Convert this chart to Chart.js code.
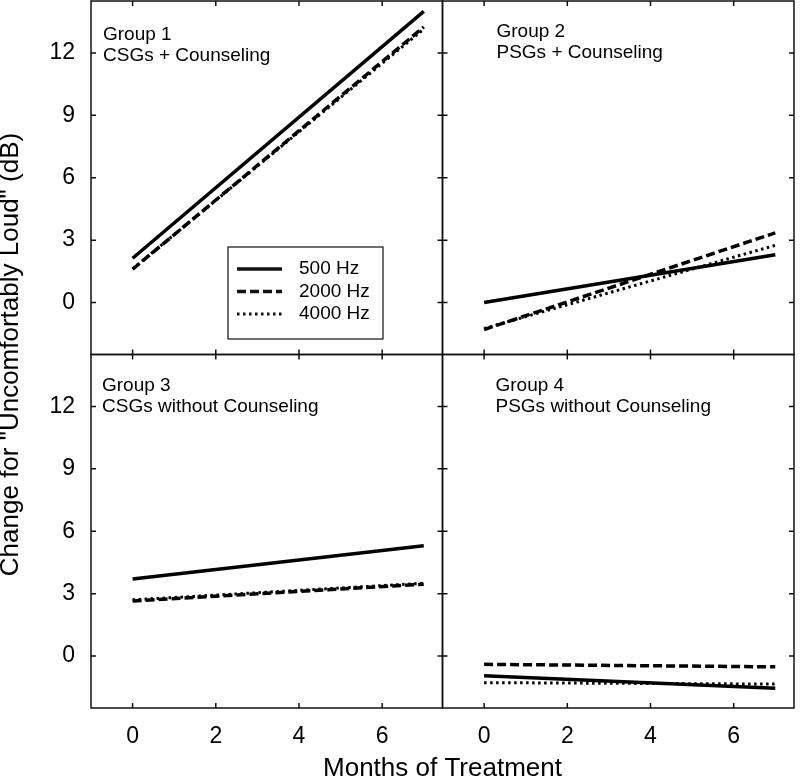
<!DOCTYPE html>
<html>
<head>
<meta charset="utf-8">
<script src="https://cdn.jsdelivr.net/npm/chart.js@4/dist/chart.umd.min.js"></script>
<style>
  html, body { margin: 0; padding: 0; background: #fff; }
  #chart { display: block; }
</style>
</head>
<body>
<canvas id="chart" width="800" height="784"></canvas>
<script>
// months at which each fitted line is drawn
const months = [0, 7];
const monthTicks = [0, 2, 4, 6];
const changeTicks = [0, 3, 6, 9, 12];
const seriesNames = ["500 Hz", "2000 Hz", "4000 Hz"];
const groupNames = ["Group 1", "Group 2", "Group 3", "Group 4"];
const groupDescs = ["CSGs + Counseling", "PSGs + Counseling", "CSGs without Counseling", "PSGs without Counseling"];

// change in "uncomfortably loud" level (dB) at 0 and 7 months
const g1Hz500 = [2.13, 14.0];
const g1Hz2000 = [1.6, 13.25];
const g1Hz4000 = [1.62, 13.15];
const g2Hz500 = [0.0, 2.3];
const g2Hz2000 = [-1.3, 3.35];
const g2Hz4000 = [-1.25, 2.75];
const g3Hz500 = [3.7, 5.3];
const g3Hz2000 = [2.65, 3.45];
const g3Hz4000 = [2.7, 3.5];
const g4Hz500 = [-0.95, -1.55];
const g4Hz2000 = [-0.4, -0.52];
const g4Hz4000 = [-1.28, -1.35];

const FONT = "'Liberation Sans', Arial, sans-serif";

const lineStyles = [
  { borderWidth: 3.5, borderDash: [] },
  { borderWidth: 3.5, borderDash: [9, 4] },
  { borderWidth: 3, borderDash: [2.5, 3.5] },
];

// which axes each panel lives on
const panels = [
  { x: "xL", y: "yTop", series: [g1Hz500, g1Hz2000, g1Hz4000], textX: 12, textY: 39, legend: true },
  { x: "xR", y: "yTop", series: [g2Hz500, g2Hz2000, g2Hz4000], textX: 54, textY: 36 },
  { x: "xL", y: "yBot", series: [g3Hz500, g3Hz2000, g3Hz4000], textX: 11, textY: 36 },
  { x: "xR", y: "yBot", series: [g4Hz500, g4Hz2000, g4Hz4000], textX: 53, textY: 36 },
];

function buildDatasets() {
  const out = [];
  panels.forEach((p, pi) => {
    p.series.forEach((vals, si) => {
      out.push({
        label: groupNames[pi] + " " + seriesNames[si],
        data: months.map((m, i) => ({ x: m, y: vals[i] })),
        xAxisID: p.x,
        yAxisID: p.y,
        borderColor: "#000",
        borderWidth: lineStyles[si].borderWidth,
        borderDash: lineStyles[si].borderDash,
        borderCapStyle: "butt",
        pointRadius: 0,
        fill: false,
        tension: 0,
      });
    });
  });
  return out;
}

function xScale() {
  return {
    type: "linear",
    position: "bottom",
    stack: "months",
    min: -1,
    max: 7.45,
    afterBuildTicks: (s) => { s.ticks = monthTicks.map((v) => ({ value: v })); },
    afterFit: (s) => { s.height = 44; s.paddingLeft = 0; s.paddingRight = 0; },
    grid: { display: false, tickLength: 8 },
    border: { display: false },
    ticks: { color: "#000", font: { family: FONT, size: 23 }, padding: 7, maxRotation: 0 },
  };
}

function yScale() {
  return {
    type: "linear",
    position: "left",
    stack: "change",
    min: -2.5,
    max: 14.5,
    afterBuildTicks: (s) => { s.ticks = changeTicks.map((v) => ({ value: v })); },
    afterFit: (s) => { s.width = 70.2; s.paddingTop = 0; s.paddingBottom = 0; },
    grid: { display: false, tickLength: 8 },
    border: { display: false },
    ticks: { color: "#000", font: { family: FONT, size: 23 }, padding: 8 },
  };
}

/**
 * Frames every panel, puts inward ticks on all four sides,
 * writes the group captions and the legend of panel 1.
 */
const panelFrames = {
  id: "panelFrames",
  afterDatasetsDraw(chart) {
    const ctx = chart.ctx;
    ctx.save();
    ctx.strokeStyle = "#111";
    ctx.fillStyle = "#000";
    panels.forEach((p, pi) => {
      const xs = chart.scales[p.x];
      const ys = chart.scales[p.y];
      ctx.lineWidth = 1.5;
      ctx.setLineDash([]);
      ctx.strokeRect(xs.left, ys.top, xs.right - xs.left, ys.bottom - ys.top);
      ctx.beginPath();
      xs.ticks.forEach((t) => {
        const px = xs.getPixelForValue(t.value);
        ctx.moveTo(px, ys.top); ctx.lineTo(px, ys.top + 5);
        ctx.moveTo(px, ys.bottom); ctx.lineTo(px, ys.bottom - 5);
      });
      ys.ticks.forEach((t) => {
        const py = ys.getPixelForValue(t.value);
        ctx.moveTo(xs.left, py); ctx.lineTo(xs.left + 5, py);
        ctx.moveTo(xs.right, py); ctx.lineTo(xs.right - 5, py);
      });
      ctx.stroke();

      ctx.font = "19px " + FONT;
      ctx.textAlign = "left";
      ctx.textBaseline = "alphabetic";
      ctx.fillText(groupNames[pi], xs.left + p.textX, ys.top + p.textY);
      ctx.fillText(groupDescs[pi], xs.left + p.textX, ys.top + p.textY + 21);

      if (p.legend) {
        const bx = xs.left + 137, by = ys.top + 246;
        ctx.lineWidth = 1.2;
        ctx.strokeRect(bx, by, 155, 92);
        ctx.font = "19px " + FONT;
        ctx.textBaseline = "middle";
        seriesNames.forEach((name, si) => {
          const ry = by + 22 + si * 22.5;
          ctx.lineWidth = lineStyles[si].borderWidth;
          ctx.setLineDash(lineStyles[si].borderDash);
          ctx.beginPath();
          ctx.moveTo(bx + 9, ry);
          ctx.lineTo(bx + 54, ry);
          ctx.stroke();
          ctx.setLineDash([]);
          ctx.fillText(name, bx + 71, ry);
        });
      }
    });
    ctx.restore();
  },
};

new Chart(document.getElementById("chart"), {
  type: "line",
  data: { datasets: buildDatasets() },
  options: {
    responsive: false,
    animation: false,
    devicePixelRatio: 1,
    layout: { padding: { left: 0, right: 6, top: 1, bottom: 0 } },
    scales: {
      xL: xScale(),
      xR: xScale(),
      yBot: yScale(),
      yTop: yScale(),
    },
    plugins: {
      legend: { display: false },
      tooltip: { enabled: false },
      title: {
        display: true,
        position: "left",
        fullSize: false,
        text: 'Change for "Uncomfortably Loud" (dB)',
        color: "#000",
        font: { family: FONT, size: 26, weight: "normal", lineHeight: 0.8 },
        padding: 0,
      },
      subtitle: {
        display: true,
        position: "bottom",
        fullSize: false,
        text: "Months of Treatment",
        color: "#000",
        font: { family: FONT, size: 26, weight: "normal", lineHeight: 1 },
        padding: { top: 4, bottom: 2 },
      },
    },
  },
  plugins: [panelFrames],
});
</script>
</body>
</html>
